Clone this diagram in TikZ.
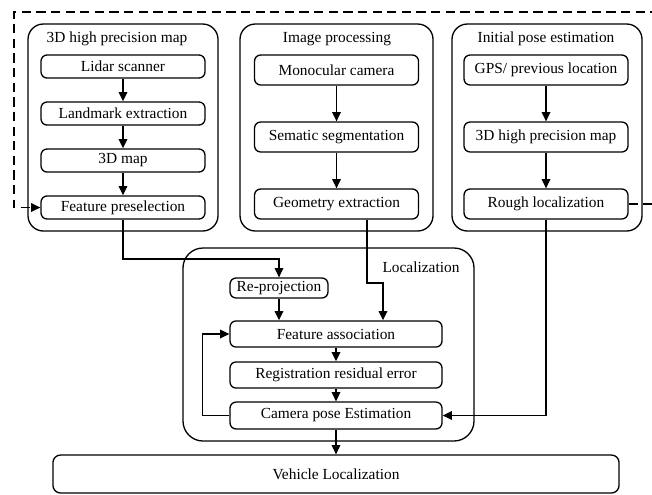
\documentclass[tikz,border=0pt]{standalone}
\usepackage{fontspec}
\setmainfont{Liberation Serif}
\usetikzlibrary{arrows.meta}

\begin{document}
\begin{tikzpicture}[x=0.65pt,y=-0.65pt,line width=0.85pt,
  group/.style={draw,rounded corners=10pt},
  box/.style={draw,rounded corners=4pt,inner sep=0pt,minimum width=106.6pt,minimum height=19.5pt},
  lowbox/.style={box,minimum height=15pt},
  arr/.style={-{Triangle[length=6pt,width=5.6pt]}}]
\useasboundingbox (0,0) rectangle (652,494);
% group frames
\draw[group] (28,24) rectangle (218,231);
\draw[group] (240,24) rectangle (433,231);
\draw[group] (452,24) rectangle (642,231);
\draw[rounded corners=13pt] (183,248) rectangle (474,441);
\node (tmap) at (117,39) {3D high precision map};
\node (timg) at (337,39) {Image processing};
\node (tpose) at (546,39) {Initial pose estimation};
\node (tloc) at (421,267) {Localization};
% 3D high precision map
\node[lowbox] (lidar) at (123,66.5) {Lidar scanner};
\node[lowbox] (landmark) at (123,113.5) {Landmark extraction};
\node[lowbox] (map) at (123,160.5) {3D map};
\node[lowbox] (presel) at (123,207.5) {Feature preselection};
% image processing
\node[box] (mono) at (336.5,70) {Monocular camera};
\node[box] (seg) at (336.5,137) {Sematic segmentation};
\node[box] (geom) at (336.5,204) {Geometry extraction};
% initial pose
\node[box] (gps) at (546,70) {GPS/ previous location};
\node[box] (hdmap) at (546,137) {3D high precision map};
\node[box] (rough) at (546,204) {Rough localization};
% localization
\node[box,minimum width=63.7pt,minimum height=13pt] (reproj) at (279,288) {Re-projection};
\node[box,minimum width=137.8pt,minimum height=17pt] (assoc) at (336,334) {Feature association};
\node[box,minimum width=137.8pt,minimum height=17pt] (resid) at (336,375) {Registration residual error};
\node[box,minimum width=137.8pt,minimum height=17.5pt] (campose) at (336,415.5) {Camera pose Estimation};
\node[box,rounded corners=5pt,minimum width=368pt,minimum height=24.7pt] (vehicle) at (336,474) {Vehicle Localization};

\draw[arr] (lidar) -- (landmark);
\draw[arr] (landmark) -- (map);
\draw[arr] (map) -- (presel);
\draw[arr] (mono) -- (seg);
\draw[arr] (seg) -- (geom);
\draw[arr] (gps) -- (hdmap);
\draw[arr] (hdmap) -- (rough);
\draw[arr] (presel.south) |- (279,259) -- (reproj.north);
\draw[arr] (geom.south -| 367,0) |- (383,283) -- (assoc.north -| 383,0);
\draw[arr] (reproj) -- (reproj |- assoc.north);
\draw[arr] (assoc) -- (resid);
\draw[arr] (resid) -- (campose);
\draw[arr] (rough.south) |- (campose.east);
\draw[arr] (campose.west) -- ++(-27,0) |- (assoc.west);
\draw[arr] (campose) -- (vehicle);
%\draw[dashed] (rough.east) -- (665,204);
\draw[arr,dash pattern=on 6pt off 3.5pt] (rough.east) -- (665,204) -- (665,12) -- (14,12) |- (presel.west);
\end{tikzpicture}
\end{document}
